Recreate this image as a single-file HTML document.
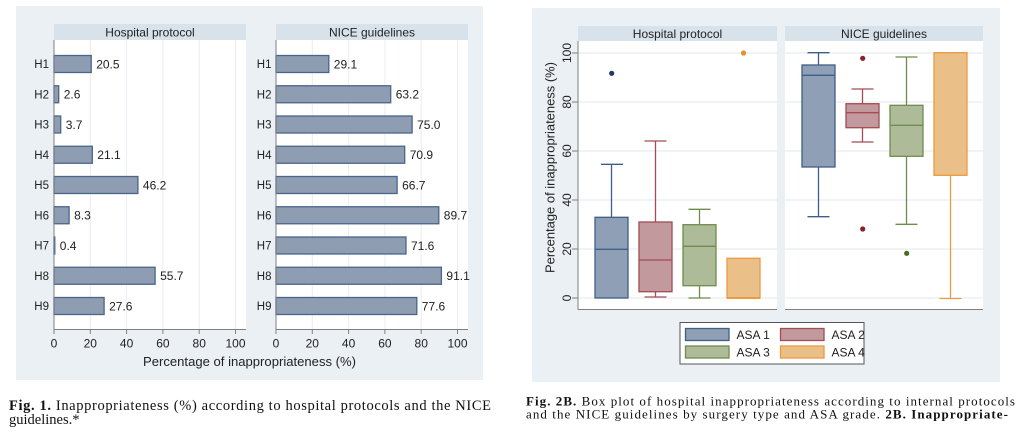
<!DOCTYPE html>
<html><head><meta charset="utf-8"><style>
html,body{margin:0;padding:0;background:#fff;}
svg{display:block;}
text{font-family:"Liberation Sans",sans-serif;fill:#222;}
.s{font-family:"Liberation Serif",serif;fill:#111;}
</style></head><body>
<svg width="1024" height="435" viewBox="0 0 1024 435" xmlns="http://www.w3.org/2000/svg">
<!-- LEFT FIGURE -->
<rect x="16" y="6" width="467" height="374" fill="#eaf0f4"/>
<rect x="54" y="24" width="192" height="16" fill="#d8e2ea"/>
<rect x="276" y="24" width="192" height="16" fill="#d8e2ea"/>
<text x="150" y="36.5" font-size="12" text-anchor="middle">Hospital protocol</text>
<text x="372" y="36.5" font-size="12" text-anchor="middle">NICE guidelines</text>
<rect x="54" y="40" width="192" height="289" fill="#fff"/>
<rect x="276" y="40" width="192" height="289" fill="#fff"/>
<g stroke="#e8eef2" stroke-width="1">
<line x1="90.3" y1="40" x2="90.3" y2="329"/><line x1="126.6" y1="40" x2="126.6" y2="329"/><line x1="162.9" y1="40" x2="162.9" y2="329"/><line x1="199.2" y1="40" x2="199.2" y2="329"/><line x1="235.5" y1="40" x2="235.5" y2="329"/>
<line x1="312.3" y1="40" x2="312.3" y2="329"/><line x1="348.6" y1="40" x2="348.6" y2="329"/><line x1="384.9" y1="40" x2="384.9" y2="329"/><line x1="421.2" y1="40" x2="421.2" y2="329"/><line x1="457.5" y1="40" x2="457.5" y2="329"/>
</g>
<g fill="#8f9db3" stroke="#4a6589" stroke-width="1.3">
<rect x="54" y="55.5" width="37.2" height="17"/>
<rect x="54" y="85.75" width="4.7" height="17"/>
<rect x="54" y="116" width="6.7" height="17"/>
<rect x="54" y="146.25" width="38.3" height="17"/>
<rect x="54" y="176.5" width="83.9" height="17"/>
<rect x="54" y="206.75" width="15.1" height="17"/>
<rect x="54" y="237" width="0.8" height="17"/>
<rect x="54" y="267.25" width="101.1" height="17"/>
<rect x="54" y="297.5" width="50.1" height="17"/>
<rect x="276" y="55.5" width="52.8" height="17"/>
<rect x="276" y="85.75" width="114.7" height="17"/>
<rect x="276" y="116" width="136.1" height="17"/>
<rect x="276" y="146.25" width="128.7" height="17"/>
<rect x="276" y="176.5" width="121.1" height="17"/>
<rect x="276" y="206.75" width="162.8" height="17"/>
<rect x="276" y="237" width="130" height="17"/>
<rect x="276" y="267.25" width="165.4" height="17"/>
<rect x="276" y="297.5" width="140.8" height="17"/>
</g>
<g font-size="12">
<text x="96.2" y="68.3">20.5</text><text x="63.7" y="98.5">2.6</text><text x="65.7" y="128.8">3.7</text><text x="97.3" y="159">21.1</text><text x="142.9" y="189.3">46.2</text><text x="74.1" y="219.5">8.3</text><text x="59.8" y="249.8">0.4</text><text x="160.1" y="280">55.7</text><text x="109.1" y="310.3">27.6</text>
<text x="333.8" y="68.3">29.1</text><text x="395.7" y="98.5">63.2</text><text x="417.1" y="128.8">75.0</text><text x="409.7" y="159">70.9</text><text x="402.1" y="189.3">66.7</text><text x="443.8" y="219.5">89.7</text><text x="411" y="249.8">71.6</text><text x="446.4" y="280">91.1</text><text x="421.8" y="310.3">77.6</text>
</g>
<g font-size="11.5" text-anchor="end">
<text x="49" y="68">H1</text><text x="49" y="98.3">H2</text><text x="49" y="128.5">H3</text><text x="49" y="158.8">H4</text><text x="49" y="189">H5</text><text x="49" y="219.3">H6</text><text x="49" y="249.5">H7</text><text x="49" y="279.8">H8</text><text x="49" y="310">H9</text>
<text x="271.5" y="68">H1</text><text x="271.5" y="98.3">H2</text><text x="271.5" y="128.5">H3</text><text x="271.5" y="158.8">H4</text><text x="271.5" y="189">H5</text><text x="271.5" y="219.3">H6</text><text x="271.5" y="249.5">H7</text><text x="271.5" y="279.8">H8</text><text x="271.5" y="310">H9</text>
</g>
<g stroke="#808080" stroke-width="1">
<line x1="54" y1="40" x2="54" y2="329.5"/><line x1="54" y1="329.5" x2="246" y2="329.5"/>
<line x1="276" y1="40" x2="276" y2="329.5"/><line x1="276" y1="329.5" x2="468" y2="329.5"/>
<line x1="54" y1="329" x2="54" y2="334"/><line x1="90.3" y1="329" x2="90.3" y2="334"/><line x1="126.6" y1="329" x2="126.6" y2="334"/><line x1="162.9" y1="329" x2="162.9" y2="334"/><line x1="199.2" y1="329" x2="199.2" y2="334"/><line x1="235.5" y1="329" x2="235.5" y2="334"/>
<line x1="276" y1="329" x2="276" y2="334"/><line x1="312.3" y1="329" x2="312.3" y2="334"/><line x1="348.6" y1="329" x2="348.6" y2="334"/><line x1="384.9" y1="329" x2="384.9" y2="334"/><line x1="421.2" y1="329" x2="421.2" y2="334"/><line x1="457.5" y1="329" x2="457.5" y2="334"/>
</g>
<g font-size="12" text-anchor="middle">
<text x="54" y="347.5">0</text><text x="90.3" y="347.5">20</text><text x="126.6" y="347.5">40</text><text x="162.9" y="347.5">60</text><text x="199.2" y="347.5">80</text><text x="235.5" y="347.5">100</text>
<text x="276" y="347.5">0</text><text x="312.3" y="347.5">20</text><text x="348.6" y="347.5">40</text><text x="384.9" y="347.5">60</text><text x="421.2" y="347.5">80</text><text x="457.5" y="347.5">100</text>
</g>
<text x="143" y="366" font-size="13" textLength="213" lengthAdjust="spacingAndGlyphs">Percentage of inappropriateness (%)</text>
<text class="s" x="9" y="410" font-size="14.5" textLength="482" lengthAdjust="spacing"><tspan font-weight="bold">Fig. 1.</tspan> Inappropriateness (%) according to hospital protocols and the NICE</text>
<text class="s" x="9" y="424" font-size="14.5">guidelines.*</text>

<!-- RIGHT FIGURE -->
<rect x="532" y="8" width="468" height="374" fill="#eaf0f4"/>
<rect x="578" y="26" width="199" height="15" fill="#d8e2ea"/>
<rect x="785" y="26" width="198" height="15" fill="#d8e2ea"/>
<text x="677.5" y="38" font-size="12" text-anchor="middle">Hospital protocol</text>
<text x="884" y="38" font-size="12" text-anchor="middle">NICE guidelines</text>
<rect x="578" y="41" width="199" height="268" fill="#fff"/>
<rect x="785" y="41" width="198" height="268" fill="#fff"/>
<g stroke="#e6edf2" stroke-width="1.2">
<line x1="578" y1="298" x2="777" y2="298"/><line x1="578" y1="249" x2="777" y2="249"/><line x1="578" y1="200" x2="777" y2="200"/><line x1="578" y1="151" x2="777" y2="151"/><line x1="578" y1="102" x2="777" y2="102"/><line x1="578" y1="53" x2="777" y2="53"/>
<line x1="785" y1="298" x2="983" y2="298"/><line x1="785" y1="249" x2="983" y2="249"/><line x1="785" y1="200" x2="983" y2="200"/><line x1="785" y1="151" x2="983" y2="151"/><line x1="785" y1="102" x2="983" y2="102"/><line x1="785" y1="53" x2="983" y2="53"/>
</g>
<!-- Hospital ASA1 -->
<g stroke="#3f5f88" stroke-width="1.3" fill="#8e9fb6">
<line x1="611.5" y1="217.3" x2="611.5" y2="164.3"/><line x1="601" y1="164.3" x2="623" y2="164.3"/>
<rect x="595" y="217.3" width="33" height="80.7"/><line x1="595" y1="249.3" x2="628" y2="249.3"/>
</g>
<circle cx="611.7" cy="73.3" r="2.6" fill="#1f3a66"/>
<!-- Hospital ASA2 -->
<g stroke="#a24c55" stroke-width="1.3" fill="#c29a9e">
<line x1="655.5" y1="222" x2="655.5" y2="141"/><line x1="644.5" y1="141" x2="666.5" y2="141"/>
<line x1="655.5" y1="291.7" x2="655.5" y2="297"/><line x1="644.5" y1="297" x2="666.5" y2="297"/>
<rect x="639" y="222" width="33" height="69.7"/><line x1="639" y1="260" x2="672" y2="260"/>
</g>
<!-- Hospital ASA3 -->
<g stroke="#6e8c4c" stroke-width="1.3" fill="#aebb99">
<line x1="699.5" y1="224.7" x2="699.5" y2="209.3"/><line x1="688.5" y1="209.3" x2="710.5" y2="209.3"/>
<line x1="699.5" y1="285.7" x2="699.5" y2="298"/><line x1="688.5" y1="298" x2="710.5" y2="298"/>
<rect x="683" y="224.7" width="33" height="61"/><line x1="683" y1="246.3" x2="716" y2="246.3"/>
</g>
<!-- Hospital ASA4 -->
<g stroke="#eb9a40" stroke-width="1.3" fill="#ebc088">
<rect x="727" y="258.3" width="33" height="39.7"/><line x1="727" y1="298" x2="760" y2="298" stroke-width="2"/>
</g>
<circle cx="743.5" cy="53" r="2.6" fill="#e8902a"/>
<!-- NICE ASA1 -->
<g stroke="#3f5f88" stroke-width="1.3" fill="#8e9fb6">
<line x1="818.5" y1="65" x2="818.5" y2="52.7"/><line x1="807.5" y1="52.7" x2="829.5" y2="52.7"/>
<line x1="818.5" y1="167" x2="818.5" y2="216.7"/><line x1="807.5" y1="216.7" x2="829.5" y2="216.7"/>
<rect x="802" y="65" width="33" height="102"/><line x1="802" y1="75.3" x2="835" y2="75.3"/>
</g>
<!-- NICE ASA2 -->
<g stroke="#a24c55" stroke-width="1.3" fill="#c29a9e">
<line x1="862.5" y1="103.7" x2="862.5" y2="89"/><line x1="851.5" y1="89" x2="873.5" y2="89"/>
<line x1="862.5" y1="127.7" x2="862.5" y2="142"/><line x1="851.5" y1="142" x2="873.5" y2="142"/>
<rect x="846" y="103.7" width="33" height="24"/><line x1="846" y1="112.7" x2="879" y2="112.7"/>
</g>
<circle cx="862.7" cy="58.3" r="2.6" fill="#8a1f2a"/>
<circle cx="862.7" cy="229" r="2.6" fill="#8a1f2a"/>
<!-- NICE ASA3 -->
<g stroke="#6e8c4c" stroke-width="1.3" fill="#aebb99">
<line x1="906.5" y1="105.3" x2="906.5" y2="57"/><line x1="895.5" y1="57" x2="917.5" y2="57"/>
<line x1="906.5" y1="156.3" x2="906.5" y2="224.3"/><line x1="895.5" y1="224.3" x2="917.5" y2="224.3"/>
<rect x="890" y="105.3" width="33" height="51"/><line x1="890" y1="125.3" x2="923" y2="125.3"/>
</g>
<circle cx="906.7" cy="253.3" r="2.6" fill="#4a6a25"/>
<!-- NICE ASA4 -->
<g stroke="#eb9a40" stroke-width="1.3" fill="#ebc088">
<line x1="950.5" y1="175.3" x2="950.5" y2="298.5"/><line x1="939.5" y1="298.5" x2="961.5" y2="298.5"/>
<rect x="934" y="52.7" width="33" height="122.6"/>
</g>
<!-- axes -->
<g stroke="#808080" stroke-width="1">
<line x1="578" y1="41" x2="578" y2="309.5"/><line x1="578" y1="309.5" x2="777" y2="309.5"/><line x1="785" y1="309.5" x2="983" y2="309.5"/>
<line x1="572" y1="298" x2="578" y2="298"/><line x1="572" y1="249" x2="578" y2="249"/><line x1="572" y1="200" x2="578" y2="200"/><line x1="572" y1="151" x2="578" y2="151"/><line x1="572" y1="102" x2="578" y2="102"/><line x1="572" y1="53" x2="578" y2="53"/>
</g>
<g font-size="12" text-anchor="middle">
<text transform="translate(571,298) rotate(-90)">0</text>
<text transform="translate(571,249) rotate(-90)">20</text>
<text transform="translate(571,200) rotate(-90)">40</text>
<text transform="translate(571,151) rotate(-90)">60</text>
<text transform="translate(571,102) rotate(-90)">80</text>
<text transform="translate(571,53) rotate(-90)">100</text>
</g>
<text transform="translate(554.5,273) rotate(-90)" font-size="13" textLength="211" lengthAdjust="spacingAndGlyphs">Percentage of inappropriateness (%)</text>
<!-- legend -->
<rect x="680" y="322.5" width="184" height="41.5" fill="#fff" stroke="#555" stroke-width="1"/>
<rect x="685.5" y="328.5" width="43.5" height="12" fill="#8e9fb6" stroke="#3f5f88" stroke-width="1.3"/>
<rect x="685.5" y="346" width="43.5" height="12" fill="#aebb99" stroke="#6e8c4c" stroke-width="1.3"/>
<rect x="780.5" y="328.5" width="43.5" height="12" fill="#c29a9e" stroke="#a24c55" stroke-width="1.3"/>
<rect x="780.5" y="346" width="43.5" height="12" fill="#ebc088" stroke="#eb9a40" stroke-width="1.3"/>
<g font-size="12">
<text x="736.5" y="339">ASA 1</text><text x="736.5" y="356.5">ASA 3</text>
<text x="831.5" y="339">ASA 2</text><text x="831.5" y="356.5">ASA 4</text>
</g>
<text class="s" x="526" y="405.5" font-size="13" textLength="489" lengthAdjust="spacing"><tspan font-weight="bold">Fig. 2B.</tspan> Box plot of hospital inappropriateness according to internal protocols</text>
<text class="s" x="526" y="418.5" font-size="13" textLength="482" lengthAdjust="spacing">and the NICE guidelines by surgery type and ASA grade. <tspan font-weight="bold">2B. Inappropriate-</tspan></text>
</svg>
</body></html>
